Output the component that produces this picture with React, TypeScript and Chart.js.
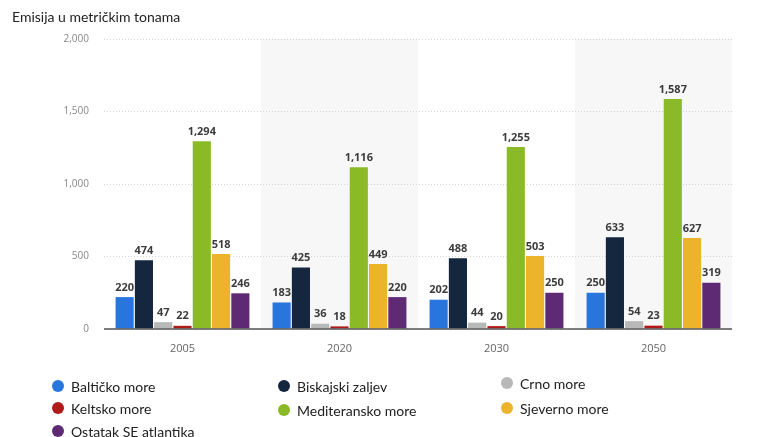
import React, { useEffect, useRef } from "react";
import { Chart, registerables } from "chart.js";
Chart.register(...registerables);

const categories = ["2005", "2020", "2030", "2050"];
const seriesNames = [
  "Baltičko more",
  "Biskajski zaljev",
  "Crno more",
  "Keltsko more",
  "Mediteransko more",
  "Sjeverno more",
  "Ostatak SE atlantika",
];
const baltic = [220, 183, 202, 250];
const biscay = [474, 425, 488, 633];
const black = [47, 36, 44, 54];
const celtic = [22, 18, 20, 23];
const med = [1294, 1116, 1255, 1587];
const north = [518, 449, 503, 627];
const rest = [246, 220, 250, 319];
const seriesValues = [baltic, biscay, black, celtic, med, north, rest];
const colors = ["#2876dd", "#14273e", "#b8b8b8", "#b01a1a", "#8aba27", "#ecb42a", "#5e2a73"];
const yTicks = [0, 500, 1000, 1500, 2000];

const legendPos = [
  { x: 58, y: 386 },
  { x: 284, y: 386 },
  { x: 507, y: 383 },
  { x: 58, y: 408 },
  { x: 284, y: 410 },
  { x: 507, y: 408 },
  { x: 58, y: 431 },
];

const fmt = (v: number) => v.toLocaleString("en-US");

export default function App() {
  const ref = useRef<HTMLCanvasElement>(null);
  useEffect(() => {
    const bands = {
      id: "bands",
      beforeDraw(chart: any) {
        const { ctx, chartArea } = chart;
        const w = (chartArea.right - chartArea.left) / categories.length;
        ctx.save();
        ctx.fillStyle = "#f7f7f7";
        [1, 3].forEach((i) => {
          const left = chartArea.left + w * i;
          ctx.fillRect(left, chartArea.top, w, chartArea.bottom - chartArea.top);
        });
        ctx.restore();
      },
      afterDraw(chart: any) {
        const { ctx, chartArea } = chart;
        ctx.save();
        ctx.strokeStyle = "#555";
        ctx.lineWidth = 1.5;
        ctx.beginPath();
        ctx.moveTo(chartArea.left, chartArea.bottom);
        ctx.lineTo(chartArea.right, chartArea.bottom);
        ctx.stroke();
        ctx.restore();
      },
      afterDatasetsDraw(chart: any) {
        const { ctx } = chart;
        ctx.save();
        ctx.font = "bold 11px 'Open Sans'";
        ctx.fillStyle = "#3c3c3c";
        ctx.textAlign = "center";
        ctx.textBaseline = "bottom";
        chart.data.datasets.forEach((ds: any, di: number) => {
          const meta = chart.getDatasetMeta(di);
          meta.data.forEach((bar: any, i: number) => {
            ctx.fillText(fmt(ds.data[i]), bar.x, bar.y - 4);
          });
        });
        ctx.restore();
      },
    };
    const chart = new Chart(ref.current!, {
      type: "bar",
      data: {
        labels: categories,
        datasets: seriesNames.map((n, i) => ({
          label: n,
          data: seriesValues[i],
          backgroundColor: colors[i],
          categoryPercentage: 0.86,
          barPercentage: 0.94,
        })),
      },
      options: {
        animation: false,
        responsive: false,
        layout: { padding: { left: 0, right: 51, top: 39, bottom: 0 } },
        plugins: { legend: { display: false }, tooltip: { enabled: false } },
        scales: {
          x: {
            grid: { display: false },
            border: { display: false },
            ticks: { color: "#666", font: { size: 11, family: "'Open Sans'" }, padding: 5 },
            afterFit(scale: any) {
              scale.height = 108;
            },
          },
          y: {
            min: 0,
            max: 2000,
            afterBuildTicks(scale: any) {
              scale.ticks = yTicks.map((v) => ({ value: v }));
            },
            grid: { color: "#d4d4d4", drawTicks: false, lineWidth: 1 },
            border: { display: false, dash: [1, 2] },
            ticks: {
              color: "#888",
              font: { size: 10, family: "'Open Sans'" },
              padding: 15,
              callback: (v: any) => fmt(Number(v)),
            },
            afterFit(scale: any) {
              scale.width = 104;
            },
          },
        },
      },
      plugins: [bands],
    } as any);
    return () => chart.destroy();
  }, []);
  return (
    <div style={{ position: "fixed", left: 0, top: 0, width: 783, height: 437, background: "#fff", fontFamily: "Lato" }}>
      <canvas ref={ref} width={783} height={437} style={{ position: "absolute", left: 0, top: 0 }} />
      <div style={{ position: "absolute", left: 12, top: 8, fontSize: 14, color: "#222" }}>Emisija u metričkim tonama</div>
      {seriesNames.map((n, i) => (
        <div key={n} style={{ position: "absolute", left: legendPos[i].x - 6, top: legendPos[i].y - 9, display: "flex", alignItems: "center", height: 18 }}>
          <span style={{ width: 12, height: 12, borderRadius: 6, background: colors[i], display: "inline-block" }} />
          <span style={{ marginLeft: 7, fontSize: 14, color: "#222", whiteSpace: "nowrap" }}>{n}</span>
        </div>
      ))}
    </div>
  );
}
